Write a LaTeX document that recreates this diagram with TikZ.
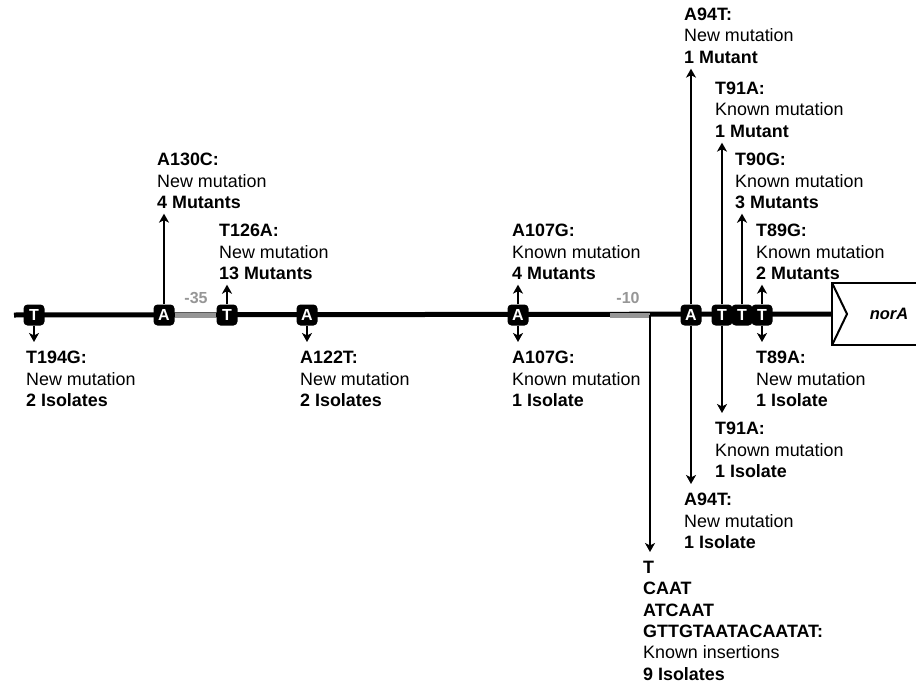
\documentclass[tikz,border=0pt]{standalone}
\usepackage{fontspec}
\setmainfont{Liberation Sans}
\usetikzlibrary{arrows.meta,backgrounds}

\definecolor{promgray}{RGB}{150,150,150}

\begin{document}
\begin{tikzpicture}[
  x=1pt,y=-1pt,
  dna/.style={line width=5pt},
  mk/.style={fill=black,rounded corners=4pt,minimum size=21pt,inner sep=0pt,text=white,font=\fontsize{16}{16}\selectfont\bfseries},
  lbl/.style={anchor=north west,align=left,inner sep=0pt,font=\fontsize{17.9}{21.3}\selectfont},
  prom/.style={text=promgray,font=\fontsize{16}{16}\selectfont\bfseries},
  arrup/.style={-{Stealth[length=9pt,width=10pt,inset=2.5pt]},line width=1.8pt,shorten >=5pt},
  arrdown/.style={-{Stealth[length=9pt,width=10pt,inset=2.5pt]},line width=1.8pt,shorten >=9pt},
  genebox/.style={line width=2pt}
]
  \useasboundingbox (0,0) rectangle (916,685);

  % Markers on the promoter
  \node[mk] (t194) at (34,315) {T};
  \node[mk] (a130) at (164,315) {A};
  \node[mk] (t126) at (227,315) {T};
  \node[mk] (a122) at (307,315) {A};
  \node[mk] (a107) at (518,315) {A};
  \node[mk] (a94) at (691,315) {A};
  \node[mk] (t91) at (722,315) {T};
  \node[mk] (t90) at (742,315) {T};
  \node[mk] (t89) at (762,315) {T};
  \coordinate (start) at (14,315);
  \coordinate (p10) at (610,315);
  \coordinate (ins) at (650,315);

  % Gene
  \node[minimum width=86pt,minimum height=62pt,anchor=west,inner sep=0pt] (norA) at (832,314) {};
  \node[font=\fontsize{16.5}{16.5}\selectfont\bfseries\itshape] (genename) at (889,314) {norA};
  \draw[genebox] (norA.north east) -- (norA.north west) -- (norA.south west) -- (norA.south east);
  \draw[genebox] (norA.north west) -- ([xshift=15pt]norA.west) -- (norA.south west);

  % Boxes -35 and -10
  \node[prom] (m35) at (196,298) {-35};
  \node[prom] (m10) at (628,298) {-10};

  % Labels above
  \node[lbl] (a94u) at (684,8) {\textbf{A94T:}\\New mutation\\\textbf{1 Mutant}};
  \node[lbl] (t91u) at (715,82) {\textbf{T91A:}\\Known mutation\\\textbf{1 Mutant}};
  \node[lbl] (t90u) at (735,153) {\textbf{T90G:}\\Known mutation\\\textbf{3 Mutants}};
  \node[lbl] (t89u) at (756,224) {\textbf{T89G:}\\Known mutation\\\textbf{2 Mutants}};
  \node[lbl] (a130u) at (157,153) {\textbf{A130C:}\\New mutation\\\textbf{4 Mutants}};
  \node[lbl] (t126u) at (219,224) {\textbf{T126A:}\\New mutation\\\textbf{13 Mutants}};
  \node[lbl] (a107u) at (512,224) {\textbf{A107G:}\\Known mutation\\\textbf{4 Mutants}};

  % Labels below
  \node[lbl] (t194d) at (26,351) {\textbf{T194G:}\\New mutation\\\textbf{2 Isolates}};
  \node[lbl] (a122d) at (300,351) {\textbf{A122T:}\\New mutation\\\textbf{2 Isolates}};
  \node[lbl] (a107d) at (512,351) {\textbf{A107G:}\\Known mutation\\\textbf{1 Isolate}};
  \node[lbl] (t89d) at (756,351) {\textbf{T89A:}\\New mutation\\\textbf{1 Isolate}};
  \node[lbl] (t91d) at (715,422) {\textbf{T91A:}\\Known mutation\\\textbf{1 Isolate}};
  \node[lbl] (a94d) at (684,493) {\textbf{A94T:}\\New mutation\\\textbf{1 Isolate}};
  \node[lbl] (insd) at (643,561) {\textbf{T}\\\textbf{CAAT}\\\textbf{ATCAAT}\\\textbf{GTTGTAATACAATAT:}\\Known insertions\\\textbf{9 Isolates}};

  \begin{scope}[on background layer]
    % Promoter line
    \draw[dna] (start) -- (norA.west);
    \draw[dna,promgray] (a130.east) -- (t126.west);
    \draw[dna,promgray] (p10) -- (ins);
    % Arrows
    \foreach \m/\l in {a130/a130u,t126/t126u,a107/a107u,a94/a94u,t91/t91u,t90/t90u,t89/t89u}{
      \draw[arrup] (\m.north) -- (\m.north |- \l.south);
    }
    \foreach \m/\l in {t194/t194d,a122/a122d,a107/a107d,t89/t89d,t91/t91d,a94/a94d}{
      \draw[arrdown] (\m.south) -- (\m.south |- \l.north);
    }
    \draw[arrdown] (ins) -- (ins |- insd.north);
  \end{scope}
\end{tikzpicture}
\end{document}
